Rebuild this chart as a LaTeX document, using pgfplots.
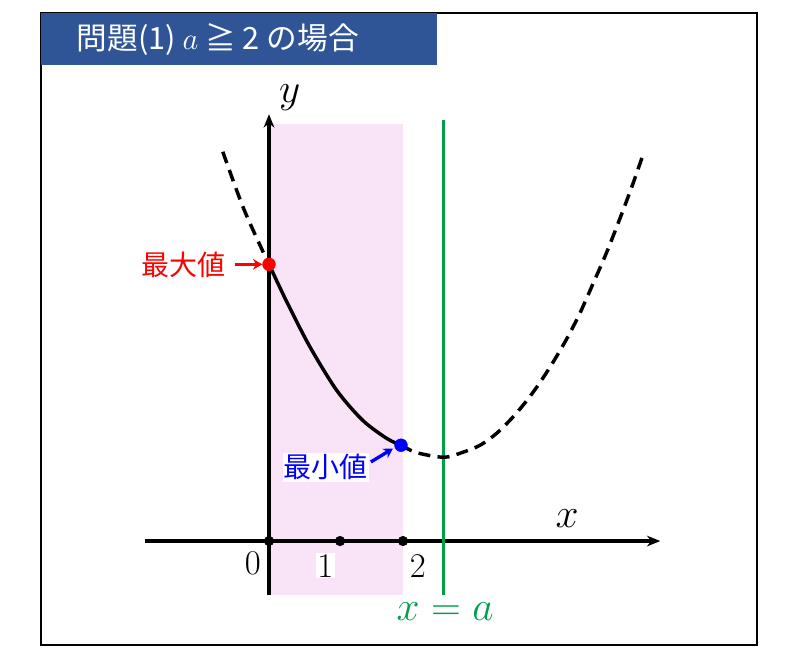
\RequirePackage{fix-cm}
\documentclass[border=0pt]{standalone}
\usepackage{fontspec}
\usepackage{pgfplots}
\pgfplotsset{compat=1.18}
\usetikzlibrary{arrows.meta}
\newfontfamily\cjk{Noto Sans CJK JP}
\definecolor{titleblue}{HTML}{2F5597}
\definecolor{bandpink}{HTML}{F9E3F6}
\definecolor{axisgreen}{HTML}{00A04A}

\begin{document}
\begin{tikzpicture}
\begin{axis}[
    x=50.25pt, y=50.25pt,
    xmin=-2, xmax=6, ymin=-1.5, ymax=7,
    hide axis, clip=false
]
% page and frame (1 unit = 67 px of the 800x660 picture)
\path[fill=white] (axis cs:-4.015,8.075) rectangle (axis cs:7.925,-1.776);
% interval 0 <= x <= 2
\addplot[fill=bandpink, draw=none] coordinates {(0,-0.81) (2,-0.81) (2,6.22) (0,6.22)} -- cycle;
% axes
\draw[line width=2.5pt, -{Stealth[length=10pt,width=8pt]}] (axis cs:-1.85,0) -- (axis cs:5.84,0);
\draw[line width=2.5pt, -{Stealth[length=10pt,width=8pt]}] (axis cs:0,-0.81) -- (axis cs:0,6.37);
% axis of symmetry x = a
\addplot[axisgreen, line width=2.5pt] coordinates {(2.6,-0.81) (2.6,6.28)};
% parabola, dashed outside the interval
\addplot[black, line width=2.6pt, dash pattern=on 9pt off 5.5pt, smooth] coordinates {
    (-0.69,5.81) (-0.39,4.99) (-0.10,4.34) (0,4.13)
};
\addplot[black, line width=2.6pt, smooth] coordinates {
    (0,4.13) (0.27,3.56) (0.61,2.90) (1.01,2.25) (1.40,1.80) (1.76,1.53) (1.97,1.43)
};
\addplot[black, line width=2.6pt, dash pattern=on 9pt off 5.5pt, smooth] coordinates {
    (1.97,1.43) (2.20,1.32) (2.60,1.25) (2.85,1.31) (3.15,1.43) (3.40,1.61) (3.64,1.85)
    (3.85,2.10) (4.04,2.36) (4.24,2.67) (4.45,3.03) (4.64,3.40) (4.84,3.85)
    (5.04,4.31) (5.24,4.82) (5.42,5.30) (5.57,5.73)
};
% ticks
\addplot[only marks, mark=*, mark size=3.6pt, black] coordinates {(0,0) (1.06,0) (2,0)};
% max and min
\addplot[only marks, mark=*, mark size=4.8pt, red] coordinates {(0,4.13)};
\addplot[only marks, mark=*, mark size=4.8pt, blue] coordinates {(1.97,1.43)};
% labels
\node[font=\fontsize{31}{34}\selectfont] at (axis cs:0.31,6.62) {$y$};
\node[font=\fontsize{31}{34}\selectfont] at (axis cs:4.45,0.33) {$x$};
\node[font=\fontsize{26}{30}\selectfont] at (axis cs:-0.24,-0.33) {$0$};
\node[font=\fontsize{26}{30}\selectfont, fill=white, inner sep=1pt] at (axis cs:0.84,-0.37) {$1$};
\node[font=\fontsize{26}{30}\selectfont] at (axis cs:2.22,-0.37) {$2$};
\node[font=\fontsize{31}{34}\selectfont, text=axisgreen] at (axis cs:2.63,-1.06) {$x=a$};
\node[font=\cjk\fontsize{21}{25}\selectfont, text=red] at (axis cs:-1.28,4.12) {最大値};
\draw[red, line width=2.5pt, -{Stealth[length=7pt,width=8pt]}] (axis cs:-0.51,4.13) -- (axis cs:-0.10,4.13);
\node[font=\cjk\fontsize{21}{25}\selectfont, text=blue, fill=white, inner sep=1pt] at (axis cs:0.85,1.10) {最小値};
\draw[blue, line width=2.5pt, -{Stealth[length=7pt,width=8pt]}] (axis cs:1.52,1.18) -- (axis cs:1.85,1.38);
% frame and title
\draw[line width=1.5pt] (axis cs:-3.40,7.88) rectangle (axis cs:7.28,-1.55);
\fill[titleblue] (axis cs:-3.40,7.88) rectangle (axis cs:2.507,7.104);
\node[anchor=west, text=white, font=\cjk\fontsize{23}{28}\selectfont] at (axis cs:-2.94,7.48) {問題(1) $a$ ≧ 2 の場合};
\end{axis}
\end{tikzpicture}
\end{document}
